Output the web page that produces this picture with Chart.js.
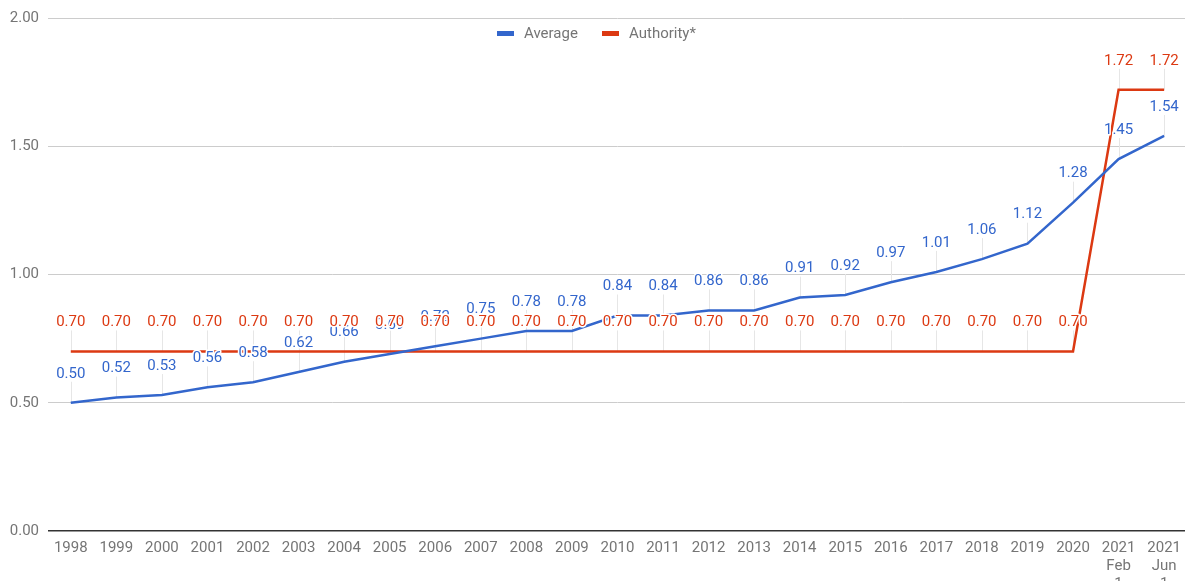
<!DOCTYPE html>
<html>
<head>
<meta charset="utf-8">
<script src="https://cdn.jsdelivr.net/npm/chart.js@4"></script>
<style>
html,body{margin:0;padding:0;background:#fff;overflow:hidden;}
#wrap{width:1185px;height:581px;position:relative;overflow:hidden;}
</style>
</head>
<body>
<div id="wrap"><canvas id="c" width="1189" height="581"></canvas></div>
<script>
const categories = [
  "1998","1999","2000","2001","2002","2003","2004","2005","2006","2007",
  "2008","2009","2010","2011","2012","2013","2014","2015","2016","2017",
  "2018","2019","2020",["2021","Feb","1"],["2021","Jun","1"]
];
const averageValues = [
  0.50,0.52,0.53,0.56,0.58,0.62,0.66,0.69,0.72,0.75,
  0.78,0.78,0.84,0.84,0.86,0.86,0.91,0.92,0.97,1.01,
  1.06,1.12,1.28,1.45,1.54
];
const authorityValues = [
  0.70,0.70,0.70,0.70,0.70,0.70,0.70,0.70,0.70,0.70,
  0.70,0.70,0.70,0.70,0.70,0.70,0.70,0.70,0.70,0.70,
  0.70,0.70,0.70,1.72,1.72
];
const yTicks = [0, 0.5, 1.0, 1.5, 2.0];
const seriesNames = ["Average","Authority*"];
const BLUE = "#3366cc", RED = "#dc3912";
const FONT = "Roboto, 'Noto Sans', sans-serif";

const stemPlugin = {
  id: 'stems',
  beforeDatasetsDraw(chart) {
    const ctx = chart.ctx;
    ctx.save();
    ctx.strokeStyle = "#e6e6e6";
    ctx.lineWidth = 1;
    chart.data.datasets.forEach((ds, i) => {
      const meta = chart.getDatasetMeta(i);
      meta.data.forEach(pt => {
        const x = Math.round(pt.x) + 0.5;
        ctx.beginPath();
        ctx.moveTo(x, pt.y);
        ctx.lineTo(x, pt.y - 21);
        ctx.stroke();
      });
    });
    ctx.restore();
  }
};

const labelPlugin = {
  id: 'valueLabels',
  afterDatasetsDraw(chart) {
    const ctx = chart.ctx;
    ctx.save();
    ctx.font = "15px " + FONT;
    ctx.textAlign = "center";
    ctx.textBaseline = "middle";
    ctx.lineJoin = "round";
    chart.data.datasets.forEach((ds, i) => {
      const meta = chart.getDatasetMeta(i);
      meta.data.forEach((pt, j) => {
        const txt = ds.data[j].toFixed(2);
        const y = pt.y - 29;
        ctx.strokeStyle = "#ffffff";
        ctx.lineWidth = 3;
        ctx.strokeText(txt, pt.x, y);
        ctx.fillStyle = ds.borderColor;
        ctx.fillText(txt, pt.x, y);
      });
    });
    ctx.restore();
  },
  afterDraw(chart) {
    const ctx = chart.ctx;
    ctx.save();
    ctx.font = "15px " + FONT;
    ctx.textBaseline = "middle";
    ctx.textAlign = "left";
    const items = [
      {name: seriesNames[0], color: BLUE, x: 497},
      {name: seriesNames[1], color: RED, x: 602}
    ];
    items.forEach(it => {
      ctx.fillStyle = it.color;
      ctx.fillRect(it.x, 31, 17, 5);
      ctx.fillStyle = "#757575";
      ctx.fillText(it.name, it.x + 27, 34);
    });
    ctx.restore();
  }
};

new Chart(document.getElementById('c'), {
  type: 'line',
  data: {
    labels: categories,
    datasets: [
      {label: seriesNames[0], data: averageValues, borderColor: BLUE, backgroundColor: BLUE, borderWidth: 2.5, pointRadius: 0, tension: 0},
      {label: seriesNames[1], data: authorityValues, borderColor: RED, backgroundColor: RED, borderWidth: 2.5, pointRadius: 0, tension: 0}
    ]
  },
  options: {
    responsive: false,
    animation: false,
    devicePixelRatio: 1,
    layout: {padding: {top: 10, right: 0, left: 0, bottom: 0}},
    plugins: {legend: {display: false}, tooltip: {enabled: false}},
    scales: {
      x: {
        offset: true,
        grid: {display: false, drawTicks: false},
        border: {display: false},
        ticks: {color: "#757575", font: {family: FONT, size: 15}, maxRotation: 0, autoSkip: false, padding: 8},
        afterFit(s) { s.height = 50; }
      },
      y: {
        min: 0, max: 2,
        afterBuildTicks(s) { s.ticks = yTicks.map(v => ({value: v})); },
        grid: {
          color: ctx => (ctx.tick && ctx.tick.value === 0) ? "#333333" : "#cccccc",
          lineWidth: ctx => (ctx.tick && ctx.tick.value === 0) ? 1.5 : 1,
          drawTicks: false
        },
        border: {display: false},
        ticks: {color: "#757575", font: {family: FONT, size: 15}, padding: 9, callback: v => Number(v).toFixed(2)},
        afterFit(s) { s.width = 48; }
      }
    }
  },
  plugins: [stemPlugin, labelPlugin]
});
</script>
</body>
</html>
